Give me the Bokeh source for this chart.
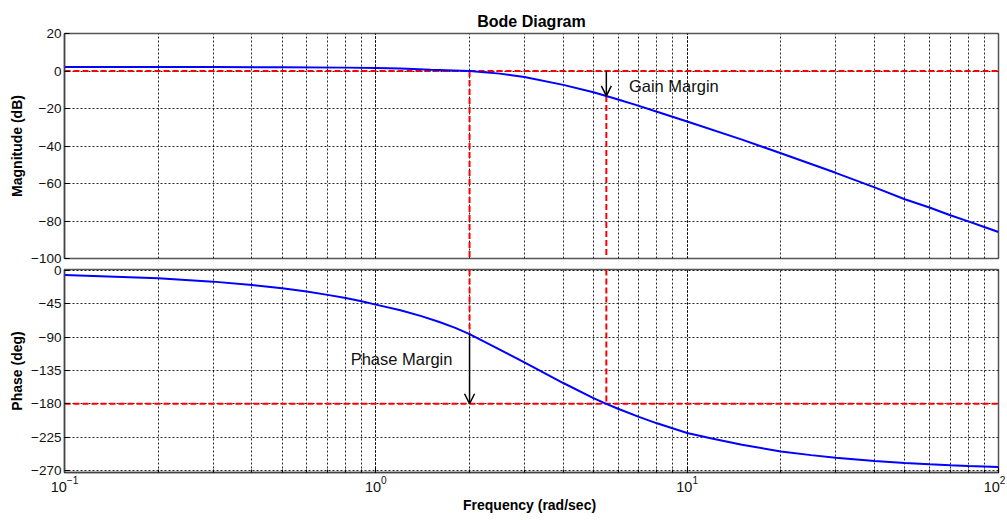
from bokeh.plotting import figure
from bokeh.layouts import column
from bokeh.models import Range1d, FixedTicker, LogTicker, Arrow, OpenHead, Label
from bokeh.embed import file_html
from bokeh.resources import INLINE

# ---------------- data ----------------
freq_mag = [0.1, 0.2, 0.3, 0.5, 0.8, 1.0, 1.2, 1.5, 2.0, 2.5, 3.0, 4.0, 5.0, 5.5,
            6.0, 7.0, 8.0, 10.0, 15.0, 20.0, 30.0, 40.0, 50.0, 60.0, 70.0, 80.0, 90.0, 100.0]
mag_db = [2.1, 2.1, 2.1, 2.0, 1.8, 1.6, 1.3, 0.7, 0.0, -1.4, -3.2, -7.4, -11.3, -13.3,
          -15.2, -18.6, -21.7, -26.9, -36.6, -43.9, -54.3, -62.1, -68.4, -72.8, -76.9, -80.2, -83.2, -85.9]

freq_phase = [0.1, 0.2, 0.3, 0.4, 0.5, 0.6, 0.7, 0.8, 0.9, 1.0, 1.2, 1.4, 1.6, 1.8, 2.0, 3.0, 4.0, 5.0, 5.5,
              6.0, 7.0, 8.0, 10.0, 12.0, 15.0, 20.0, 25.0, 30.0, 40.0, 50.0, 60.0, 70.0, 80.0, 100.0]
phase_deg = [-6, -10.4, -14.9, -19.6, -24, -28.4, -32.8, -37, -41.5, -46, -53.5, -61.5, -69.5, -77.5, -86,
             -124, -152, -172.4, -180.2, -186.8, -197.8, -206.5, -219.6, -227, -235.5, -244.5, -249.5,
             -253, -257.5, -260.3, -262, -263.3, -264.2, -265.5]

mag_ticks = [20, 0, -20, -40, -60, -80, -100]
phase_ticks = [0, -45, -90, -135, -180, -225, -270]

w_gc = 2.0          # gain crossover frequency
w_pc = 5.5          # phase crossover frequency
gm_db = -13.3       # magnitude at phase crossover
pm_phase = -86      # phase at gain crossover

title_text = "Bode Diagram"
mag_label = "Magnitude (dB)"
phase_label = "Phase (deg)"
freq_label = "Frequency  (rad/sec)"
gm_text = "Gain Margin"
pm_text = "Phase Margin"

FONT = "Liberation Sans"
BLUE = "#0000ff"
RED = "#ff0000"


def style(p, yticks):
    p.outline_line_color = "#555555"
    p.outline_line_width = 1.5
    p.background_fill_color = "white"
    p.yaxis.ticker = FixedTicker(ticks=yticks)
    for ax in p.yaxis + p.xaxis:
        ax.axis_line_color = "#444444"
        ax.axis_line_width = 1.5
        ax.major_tick_in = 5
        ax.major_tick_out = 0
        ax.minor_tick_in = 0
        ax.minor_tick_out = 0
        ax.major_tick_line_color = "black"
        ax.major_label_text_font = FONT
        ax.major_label_text_font_size = "13.5px"
        ax.major_label_text_color = "#111111"
        ax.axis_label_text_font = FONT
        ax.axis_label_text_font_size = "14px"
        ax.axis_label_text_font_style = "bold"
        ax.axis_label_text_color = "black"
    p.yaxis.major_label_standoff = 3
    p.yaxis.axis_label_standoff = 3
    p.xaxis.ticker = LogTicker(num_minor_ticks=10, desired_num_ticks=4)
    p.xaxis.minor_tick_in = 3
    for g in (p.xgrid, p.ygrid):
        g.grid_line_color = "black"
        g.grid_line_dash = "2 2"
        g.grid_line_alpha = 0.85
        g.grid_line_width = 1
    p.xgrid.minor_grid_line_color = "black"
    p.xgrid.minor_grid_line_dash = "2 2"
    p.xgrid.minor_grid_line_alpha = 0.85
    p.ygrid.ticker = FixedTicker(ticks=yticks)


# ---------------- magnitude panel ----------------
p1 = figure(width=1005, height=266, x_axis_type="log",
            x_range=Range1d(0.1, 100), y_range=Range1d(-100, 20),
            output_backend="svg", toolbar_location=None,
            min_border_left=64, min_border_right=7, min_border_top=33, min_border_bottom=8)
style(p1, mag_ticks)
p1.border_fill_color = "white"
p1.xaxis.visible = False
p1.yaxis.axis_label = mag_label
p1.title.text = title_text
p1.title.align = "center"
p1.title.text_font = FONT
p1.title.text_font_size = "16px"
p1.title.text_font_style = "bold"
p1.title.text_color = "black"
p1.title.standoff = 8

x0, x1 = freq_mag[0], freq_mag[-1]
p1.line([x0, x1], [0, 0], line_color=RED, line_dash="6 3", line_width=2)
p1.line([w_gc, w_gc], [0, -100], line_color=RED, line_dash="6 3", line_width=2)
p1.line([w_pc, w_pc], [gm_db, -100], line_color=RED, line_dash="6 3", line_width=2)
p1.line(freq_mag, mag_db, line_color=BLUE, line_width=2)
p1.add_layout(Arrow(end=OpenHead(size=10, line_color="black", line_width=1.5),
                    x_start=w_pc, y_start=0, x_end=w_pc, y_end=gm_db,
                    line_color="black", line_width=1.5))
p1.add_layout(Label(x=6.5, y=-8, text=gm_text, text_font=FONT, text_font_size="16.5px",
                    text_baseline="middle", text_color="#111111"))

# ---------------- phase panel ----------------
p2 = figure(width=1005, height=260, x_axis_type="log",
            x_range=p1.x_range, y_range=Range1d(-273, 1.5),
            output_backend="svg", toolbar_location=None,
            min_border_left=64, min_border_right=7, min_border_top=11, min_border_bottom=46)
style(p2, phase_ticks)
p2.border_fill_alpha = 0
p2.margin = (-8, 0, 0, 0)
p2.yaxis.axis_label = phase_label
p2.xaxis.axis_label = freq_label
p2.xaxis.major_label_text_font_size = "14.5px"
p2.xaxis.major_label_standoff = 3
p2.xaxis.axis_label_standoff = 2

p2.line([x0, x1], [-180, -180], line_color=RED, line_dash="6 3", line_width=2)
p2.line([w_gc, w_gc], [1.5, pm_phase], line_color=RED, line_dash="6 3", line_width=2)
p2.line([w_pc, w_pc], [1.5, -180], line_color=RED, line_dash="6 3", line_width=2)
p2.line(freq_phase, phase_deg, line_color=BLUE, line_width=2)
p2.add_layout(Arrow(end=OpenHead(size=10, line_color="black", line_width=1.5),
                    x_start=w_gc, y_start=pm_phase, x_end=w_gc, y_end=-180,
                    line_color="black", line_width=1.5))
p2.add_layout(Label(x=0.83, y=-120, text=pm_text, text_font=FONT, text_font_size="16.5px",
                    text_baseline="middle", text_color="#111111"))

layout = column(p1, p2, spacing=0)
open("out.html", "w").write(file_html(layout, INLINE))
